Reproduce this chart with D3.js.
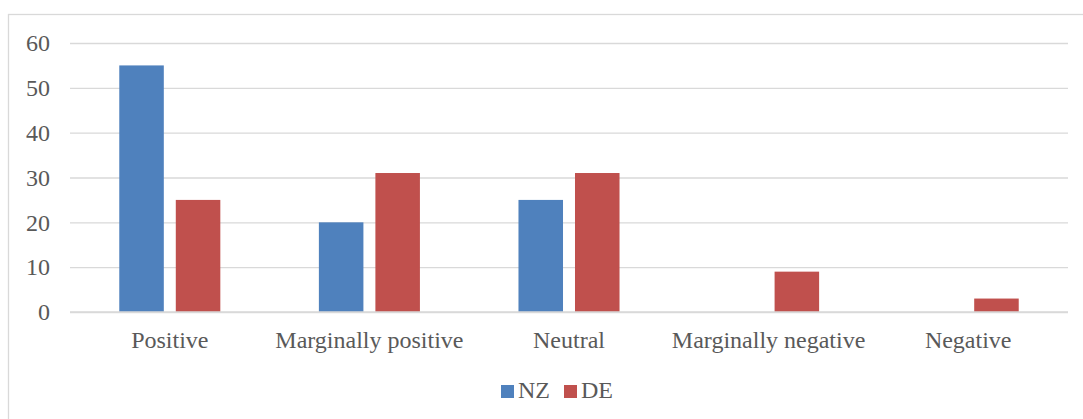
<!DOCTYPE html>
<html>
<head>
<meta charset="utf-8">
<script src="https://cdn.jsdelivr.net/npm/d3@7"></script>
<style>
  body { margin: 0; background: #fff; }
  svg { display: block; }
  text { font-family: "Liberation Serif", "Times New Roman", serif; fill: #595959; }
</style>
</head>
<body>
<svg width="1083" height="419"></svg>
<script>
var categories = ['Positive', 'Marginally positive', 'Neutral', 'Marginally negative', 'Negative'];
var seriesNames = ['NZ', 'DE'];
var nzValues = [55, 20, 25, 0, 0];
var deValues = [25, 31, 31, 9, 3];
var yTicks = [0, 10, 20, 30, 40, 50, 60];
var colors = ['#4f81bd', '#c0504d'];

var rows = categories.map(function(c, i) {
  return { category: c, values: [nzValues[i], deValues[i]] };
});

var svg = d3.select('svg');

// outer chart border
svg.append('rect')
  .attr('x', 8.5)
  .attr('y', 14.5)
  .attr('width', 1090)
  .attr('height', 420)
  .attr('fill', 'none')
  .attr('stroke', '#d9d9d9')
  .attr('stroke-width', 1.3);

var plotLeft = 70, plotRight = 1068, plotTop = 43, plotBottom = 312;

var x0 = d3.scaleBand()
  .domain(categories)
  .range([plotLeft, plotRight])
  .padding(0);

var x1 = d3.scaleBand()
  .domain(seriesNames)
  .range([0, x0.bandwidth()])
  .paddingInner(0.212)
  .paddingOuter(0.872);

var y = d3.scaleLinear()
  .domain([0, 60])
  .range([plotBottom, plotTop]);

var color = d3.scaleOrdinal()
  .domain(seriesNames)
  .range(colors);

// gridlines + y labels
var yAxis = svg.append('g')
  .attr('transform', 'translate(' + plotLeft + ',0)')
  .call(d3.axisLeft(y).tickValues(yTicks).tickSize(-(plotRight - plotLeft)).tickPadding(20));
yAxis.select('.domain').remove();
yAxis.selectAll('line').attr('stroke', '#d9d9d9').attr('stroke-width', 1.4);
yAxis.selectAll('text')
  .attr('font-size', '24px')
  .attr('fill', '#595959')
  .attr('font-family', '"Liberation Serif", "Times New Roman", serif');

// bars
var groups = svg.selectAll('g.cat')
  .data(rows)
  .enter().append('g')
  .attr('class', 'cat')
  .attr('transform', function(d) { return 'translate(' + x0(d.category) + ',0)'; });

groups.selectAll('rect')
  .data(function(d) {
    return d.values.map(function(v, i) { return { name: seriesNames[i], value: v }; });
  })
  .enter().append('rect')
  .attr('x', function(d) { return x1(d.name); })
  .attr('y', function(d) { return y(d.value); })
  .attr('width', x1.bandwidth())
  .attr('height', function(d) { return y(0) - y(d.value); })
  .attr('fill', function(d) { return color(d.name); });

// redraw baseline on top of bars
svg.append('line')
  .attr('x1', plotLeft).attr('x2', plotRight)
  .attr('y1', y(0)).attr('y2', y(0))
  .attr('stroke', '#d9d9d9')
  .attr('stroke-width', 1.4);

// category labels
var xAxis = svg.append('g')
  .attr('transform', 'translate(0,' + plotBottom + ')')
  .call(d3.axisBottom(x0).tickSize(0).tickPadding(19));
xAxis.select('.domain').remove();
xAxis.selectAll('text')
  .attr('font-size', '24px')
  .attr('fill', '#595959')
  .attr('font-family', '"Liberation Serif", "Times New Roman", serif');

// legend
var legendX = [501, 564];
var legend = svg.selectAll('g.legend')
  .data(seriesNames)
  .enter().append('g')
  .attr('class', 'legend')
  .attr('transform', function(d, i) { return 'translate(' + legendX[i] + ',385)'; });

legend.append('rect')
  .attr('width', 13)
  .attr('height', 13)
  .attr('fill', function(d) { return color(d); });

legend.append('text')
  .attr('x', 17)
  .attr('y', 13)
  .attr('font-size', '24px')
  .text(function(d) { return d; });
</script>
</body>
</html>
